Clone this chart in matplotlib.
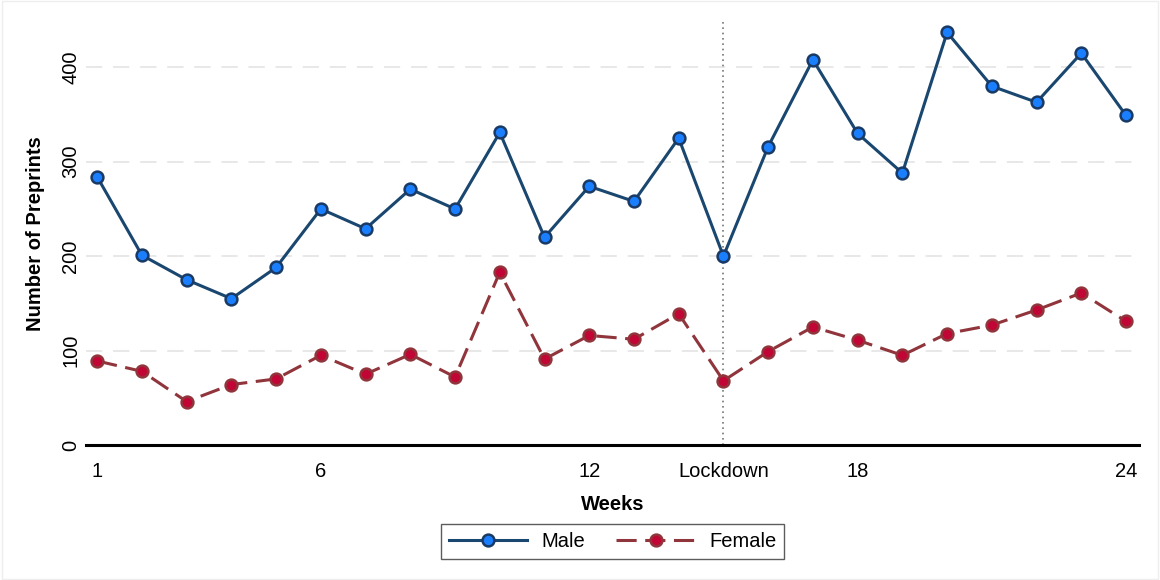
import matplotlib
matplotlib.use("Agg")
import matplotlib.pyplot as plt
from matplotlib.patches import Rectangle

plt.rcParams['font.family'] = ['Liberation Sans', 'DejaVu Sans']

weeks = list(range(1, 25))
male = [284, 201, 175, 155, 188, 250, 229, 271, 250, 331, 220, 274, 258, 325, 200,
        316, 408, 330, 288, 437, 380, 363, 415, 349]
female = [89, 78, 46, 64, 70, 95, 75, 96, 72, 183, 91, 116, 112, 139, 68,
          99, 125, 111, 95, 118, 127, 143, 161, 131]
xtick_pos = [1, 6, 12, 15, 18, 24]
xtick_labels = ['1', '6', '12', 'Lockdown', '18', '24']
ytick_pos = [0, 100, 200, 300, 400]
lockdown_week = 15

FS = 14.5

fig = plt.figure(figsize=(11.6, 5.8), dpi=100)
ax = fig.add_axes([86/1160, 1 - 445/580, (1139-86)/1160, (445-22)/580])

ax.set_xlim(0.75, 24.29)
ax.set_ylim(0, 448)

for y in ytick_pos[1:]:
    ax.axhline(y, color='#e6e6e6', lw=1.3, linestyle=(0, (9, 6)), zorder=0)

ax.axvline(lockdown_week, color='#777777', lw=1.2, linestyle=(0, (1, 2.2)), zorder=1)

ax.plot(weeks, male, color='#1a476f', lw=2.2, marker='o', markersize=8.5,
        markerfacecolor='#1a7fff', markeredgecolor='#1a3a66', markeredgewidth=1.8,
        label='Male', zorder=3)
ax.plot(weeks, female, color='#90353b', lw=2.2, linestyle=(0, (6.6, 2.8)), marker='o',
        markersize=8.5, markerfacecolor='#c10534', markeredgecolor='#90353b',
        markeredgewidth=1.8, label='Female', zorder=3)

for s in ['left', 'right', 'top']:
    ax.spines[s].set_visible(False)
ax.spines['bottom'].set_linewidth(2.2)
ax.spines['bottom'].set_color('black')

ax.set_xticks(xtick_pos)
ax.set_xticklabels(xtick_labels)
ax.set_yticks(ytick_pos)
ax.set_yticklabels([str(v) for v in ytick_pos], rotation=90, va='center')
ax.tick_params(axis='both', length=0, labelsize=FS)
ax.tick_params(axis='x', pad=12)
ax.tick_params(axis='y', pad=4)

ax.set_xlabel('Weeks', fontsize=FS, fontweight='bold', labelpad=10)
ax.set_ylabel('Number of Preprints', fontsize=FS, fontweight='bold', labelpad=12)

leg = ax.legend(loc='upper center', bbox_to_anchor=(0.5, -0.163), ncol=2,
                fontsize=FS, frameon=True, fancybox=False, edgecolor='#333333',
                handlelength=3.9, columnspacing=1.55, borderpad=0.4, handletextpad=0.7,
                borderaxespad=0.5)
leg.get_frame().set_linewidth(1.0)

fig.patches.append(Rectangle((0.002, 0.002), 0.996, 0.996, transform=fig.transFigure,
                             fill=False, edgecolor='#eeeeee', lw=1.0))

fig.savefig('out.png', dpi=100, facecolor='white')
